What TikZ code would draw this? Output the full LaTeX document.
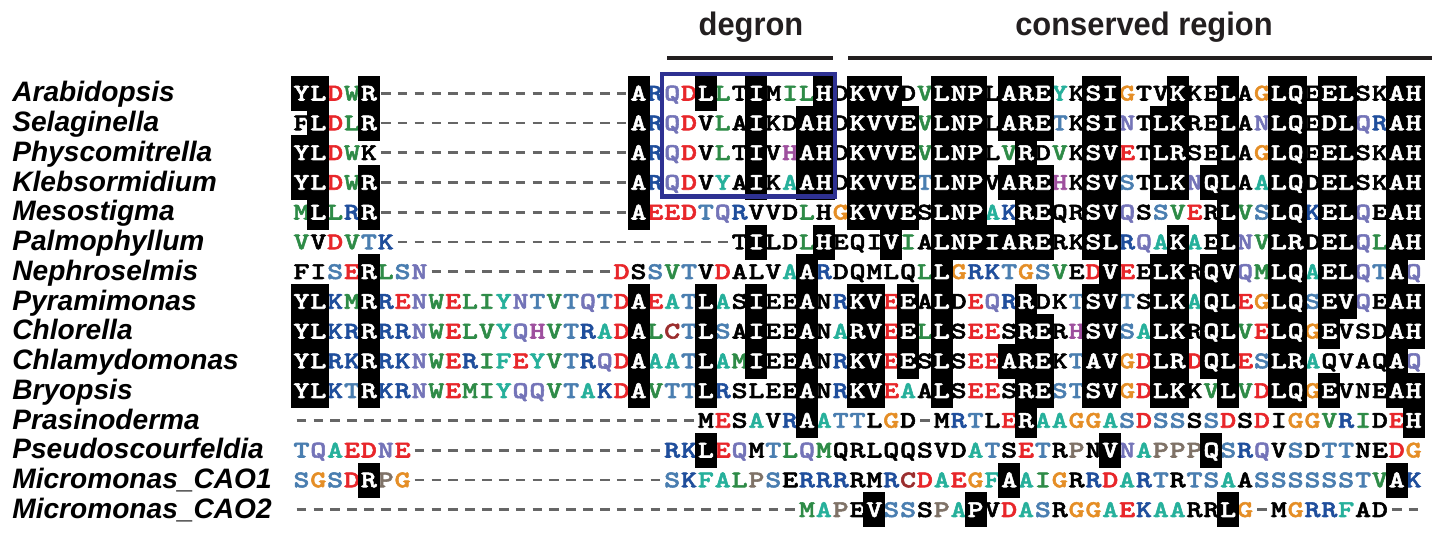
\documentclass[tikz,border=0pt]{standalone}
\usepackage{fontspec}
\setmainfont{Liberation Sans}
\newfontfamily\seqfont{lmmonolt10-bold.otf}[FakeStretch=1.28,FakeBold=2.2]
\newfontfamily\headfont{Liberation Sans}[FakeStretch=0.95]
\usetikzlibrary{positioning}

\definecolor{seqred}{HTML}{E8262A}
\definecolor{seqblue}{HTML}{1F4E9C}
\definecolor{seqlav}{HTML}{7474B8}
\definecolor{seqsteel}{HTML}{4A7EB0}
\definecolor{seqteal}{HTML}{26B09B}
\definecolor{seqgreen}{HTML}{2E8B47}
\definecolor{seqorange}{HTML}{E58E26}
\definecolor{seqpurple}{HTML}{9E4F9E}
\definecolor{seqgray}{HTML}{7F7267}
\definecolor{seqdarkred}{HTML}{9B2E2E}
\definecolor{degronblue}{HTML}{2E3192}
\definecolor{barblack}{HTML}{231F20}

% residue -> colour
\newcommand{\rc}[2]{\expandafter\def\csname rc@#1\endcsname{#2}}
\rc{D}{seqred}\rc{E}{seqred}
\rc{K}{seqblue}\rc{R}{seqblue}
\rc{Q}{seqlav}\rc{N}{seqlav}
\rc{S}{seqsteel}\rc{T}{seqsteel}
\rc{A}{seqteal}\rc{Y}{seqteal}\rc{F}{seqteal}
\rc{L}{seqgreen}\rc{I}{seqgreen}\rc{V}{seqgreen}\rc{M}{seqgreen}\rc{W}{seqgreen}
\rc{G}{seqorange}\rc{H}{seqpurple}\rc{P}{seqgray}\rc{C}{seqdarkred}

% one alignment row: #1 row, #2 residues, #3 mask (b = boxed, k = black, . = coloured)
% drawn in three passes: 1 = plain letters and gaps, 2 = black boxes, 3 = white letters
\newcount\colidx
\def\seqpass{1}
\newcommand{\seqrow}[3]{\colidx=0 \def\rowidx{#1}\seqstep#2\relax#3\relax}
\def\seqstep#1#2\relax#3#4\relax{%
  \advance\colidx by 1
  \seqcell{#1}{#3}%
  \ifx\relax#2\relax\else\seqstep#2\relax#4\relax\fi}
\newcommand{\seqcell}[2]{%
  \pgfmathsetmacro\cx{301.5+(\the\colidx-1)*16.85}%
  \pgfmathsetmacro\cy{93.3+(\rowidx-1)*29.75}%
  \edef\cellname{r\rowidx c\the\colidx}%
  \ifnum\seqpass=1
    \if#1-%
      \draw[gapdash] (\cx-4.8,\cy) -- (\cx+4.8,\cy);%
    \else\if#2b\else\if#2k%
      \node[res,text=black] (\cellname) at (\cx,\cy+7.2) {#1};%
    \else
      \node[res,text=\csname rc@#1\endcsname] (\cellname) at (\cx,\cy+7.2) {#1};%
    \fi\fi\fi
  \else\ifnum\seqpass=2
    \if#2b\fill[black] (\cx-11,\cy-17.5) rectangle (\cx+11,\cy+17.5);\fi
  \else
    \if#2b\node[res,text=white] (\cellname) at (\cx,\cy+7.2) {#1};\fi
  \fi\fi}

\newcommand{\alignment}{%
\seqrow{1}{YLDWR----- ---------- ARQDLLTIMI LHDKVVDVLN PLAREYKSIG TVKKELAGLQ EELSKAH}
          {bb..b----- ---------- b...b.kbk. .bkbbbk.bb bkbbb.kbb. kkbkkbk.bb kbbkkbb}%
\seqrow{2}{FLDLR----- ---------- ARQDVLAIKD AHDKVVEVLN PLARETKSIN TLKRELANLQ EDLQRAH}
          {kb..b----- ---------- b...k.kbkk bbkbbbb.bb bkbbb.kbb. kbbkkbk.bb kbb..bb}%
\seqrow{3}{YLDWK----- ---------- ARQDVLTIVH AHDKVVEVLN PLVRDVKSVE TLRSELAGLQ EELSKAH}
          {bb..k----- ---------- b...k.kbk. bbkbbbb.bb bk.bk.kbb. kbbkkbk.bb kbbkkbb}%
\seqrow{4}{YLDWR----- ---------- ARQDVYAIKA AHDKVVETLN PVAREHKSVS TLKNQLAALQ DELSKAH}
          {bb..b----- ---------- b...k.kbk. bbkbbbb.bb bkbbb.kbb. kbb.bbk.bb kbbkkbb}%
\seqrow{5}{MLLRR----- ---------- AEEDTQRVVD LHGKVVESLN PAKREQRSVQ SSVERLVSLQ KELQEAH}
          {.b..b----- ---------- b......kkk .k.bbbbkbb b..bbkkbb. k...kb..bb .bb.kbb}%
\seqrow{6}{VVDVTK---- ---------- ------TILD LHEQIVIALN PIARERKSLR QAKAELNVLR DELQLAH}
          {.k....---- ---------- ------kbkk .bkkkb.kbb bbbbbkkbb. ..b.kb..bb kbb..bb}%
\seqrow{7}{FISERLSN-- ---------D SSVTVDALVA ARDQMLQLLG RKTGSVEDVE ELKRQVQMLQ AELQTAQ}
          {kk..b...-- ---------. k...k.kkk. b.kkkkk.b. ......k.b. kbbkbb..bb .bb..b.}%
\seqrow{8}{YLKMRRENWE LIYNTVTQTD AEATLASIEE ANRKVEEALD EQRRDKTSVT SLKAQLEGLQ SEVQEAH}
          {bb..b..... .......... b...b.kbkk bk.bb.bkbk ...bkk.bb. kbb.bb..bb .bb.kbb}%
\seqrow{9}{YLKRRRRNWE LVYQHVTRAD ALCTLSAIEE ANARVEELLS EESRERHSVS ALKRQLVELQ GEVSDAH}
          {bb..b..... .......... b...b.kbkk bk.bb.b.bk ..kbbk.bb. .bbkbb..bb .bkkkbb}%
\seqrow{10}{YLRKRRKNWE RIFEYVTRQD AAATLAMIEE ANRKVEESLS EEAREKTAVG DLRDQLESLR AQVAQAQ}
           {bb..b..... .......... b...b..bkk bk.bb.bkbk ..bbbk.bb. .bb.bb..bb .kkkkb.}%
\seqrow{11}{YLKTRKRNWE MIYQQVTAKD AVTTLRSLEE ANRKVEAALS EESRESTSVG DLKKVLVDLQ GEVNEAH}
           {bb..b..... .......... b...b.kkkk bk.bb..kbk ..kbb..bb. .bbk.b..bb .bkkkbb}%
\seqrow{12}{---------- ---------- ----MESAVR AATTLGD-MR TLERAAGGAS DSSSSDSDIG GVRIDEH}
           {---------- ---------- ----k.k.k. b...k.k-k. .k.b...... ...k..k.k. ....k.b}%
\seqrow{13}{TQAEDNE--- ---------- --RKLEQMTL QMQRLQQSVD ATSETRPNVN APPPQSRQVS DTTNEDG}
           {.......--- ---------- --..b..k.. ..kkkkkkkk ..k..k.kb. ....b...k. k..kk..}%
\seqrow{14}{SGSDRPG--- ---------- --SKFALPSE RRRRMRCDAE GFAAIGRRDA RTRTSAASSS SSSTVAK}
           {....b..--- ---------- --.......k ...kk..... ..b...k... ..k...k... .....b.}%
\seqrow{15}{---------- ---------- ---------- MAPEVSSSPA PVDASRGGAE KAARRLG-MG RRFAD--}
           {---------- ---------- ---------- ...kb..k.. bk...k.... ...kkb.-k. ...kk--}%
}

\begin{document}
\begin{tikzpicture}[x=0.02cm, y=-0.02cm,
  res/.style={anchor=base, inner sep=0pt, font=\seqfont\fontsize{13.6}{15}\selectfont},
  gapdash/.style={line width=1.5pt, color=black!60},
  species/.style={anchor=base west, inner sep=0pt, font=\fontsize{16}{18}\selectfont\bfseries\itshape},
  head/.style={anchor=base, inner sep=0pt, font=\headfont\fontsize{18.5}{20}\selectfont\bfseries, text=barblack},
  bar/.style={line width=2.8pt, barblack},
  degronbox/.style={line width=2.3pt, degronblue},
]
\useasboundingbox (0,0) rectangle (1438,540);
\fill[white] (0,0) rectangle (1438,540);

% --- headers ---
\node[head] (degron) at (751,36) {degron};
\node[head] (conserved) at (1144,36) {conserved region};
\coordinate (dgL) at (667,58);
\coordinate (dgR) at (833,58);
\coordinate (csL) at (848,58);
\coordinate (csR) at (1432,58);
\draw[bar] (dgL) -- (dgR);
\draw[bar] (csL) -- (csR);

% --- species names ---
\foreach \spname [count=\i] in {Arabidopsis, Selaginella, Physcomitrella, Klebsormidium,
  Mesostigma, Palmophyllum, Nephroselmis, Pyramimonas, Chlorella, Chlamydomonas,
  Bryopsis, Prasinoderma, Pseudoscourfeldia, Micromonas\_CAO1, Micromonas\_CAO2}
  \node[species] (sp\i) at (12,{93.3+(\i-1)*29.75+8.5}) {\spname};

% --- alignment: plain letters, then boxes, then boxed letters ---
\def\seqpass{1}\alignment
\def\seqpass{2}\alignment
\def\seqpass{3}\alignment

% --- degron frame ---
\coordinate (dbTL) at (661.7,74);
\coordinate (dbBR) at (835,196.5);
\draw[degronbox] (dbTL) rectangle (dbBR);
\end{tikzpicture}
\end{document}
